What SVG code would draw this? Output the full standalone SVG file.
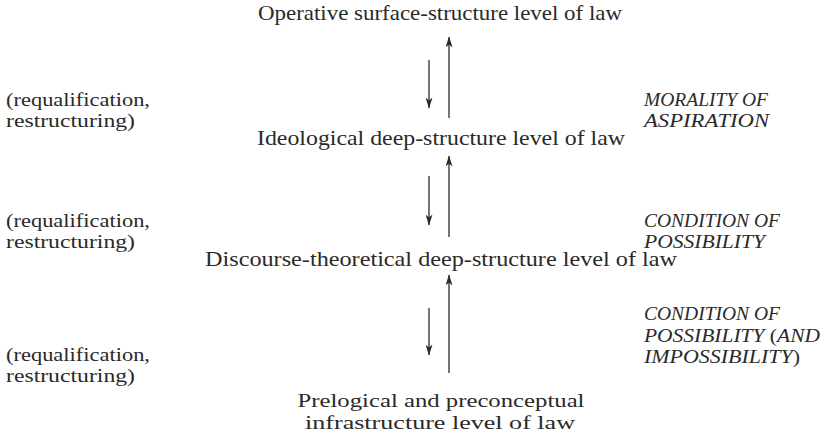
<svg xmlns="http://www.w3.org/2000/svg" width="838" height="438" viewBox="0 0 838 438">
  <style>
    text { font-family: 'Liberation Serif', serif; font-size: 21px; fill: #2a2a2a; }
    .lvl { text-anchor: middle; }
    .two { font-size: 19.8px; }
    .side { font-size: 18.9px; }
    .note { font-style: italic; }
    .up { font-style: normal; }
    .arr { stroke: #2a2a2a; stroke-width: 1.3; fill: none; }
  </style>
  <defs>
    <marker id="head" viewBox="0 0 11 7" refX="10.5" refY="3.5" markerWidth="11" markerHeight="7" markerUnits="userSpaceOnUse" orient="auto">
      <path d="M0,0 L11,3.5 L0,7 L3,3.5 Z" fill="#2a2a2a"/>
    </marker>
  </defs>

  <!-- levels -->
  <g id="level-operative">
    <text class="lvl" x="440" y="20" textLength="364" lengthAdjust="spacingAndGlyphs">Operative surface-structure level of law</text>
  </g>
  <g id="level-ideological">
    <text class="lvl" x="441" y="145" textLength="368" lengthAdjust="spacingAndGlyphs">Ideological deep-structure level of law</text>
  </g>
  <g id="level-discourse">
    <text class="lvl" x="441" y="266" textLength="472" lengthAdjust="spacingAndGlyphs">Discourse-theoretical deep-structure level of law</text>
  </g>
  <g id="level-prelogical">
    <text class="lvl two" x="441" y="407" textLength="287" lengthAdjust="spacingAndGlyphs">Prelogical and preconceptual</text>
    <text class="lvl two" x="440" y="429" textLength="270" lengthAdjust="spacingAndGlyphs">infrastructure level of law</text>
  </g>

  <!-- side notes -->
  <g id="note-left-1" class="side">
    <text class="side" x="6" y="106" textLength="144" lengthAdjust="spacingAndGlyphs">(requalification,</text>
    <text class="side" x="6" y="127" textLength="129" lengthAdjust="spacingAndGlyphs">restructuring)</text>
  </g>
  <g id="note-right-1">
    <text class="side note" x="644" y="106" textLength="124" lengthAdjust="spacingAndGlyphs">MORALITY OF</text>
    <text class="side note" x="644" y="127" textLength="125" lengthAdjust="spacingAndGlyphs">ASPIRATION</text>
  </g>
  <g id="note-left-2">
    <text class="side" x="6" y="227" textLength="144" lengthAdjust="spacingAndGlyphs">(requalification,</text>
    <text class="side" x="6" y="248" textLength="129" lengthAdjust="spacingAndGlyphs">restructuring)</text>
  </g>
  <g id="note-right-2">
    <text class="side note" x="644" y="227" textLength="136" lengthAdjust="spacingAndGlyphs">CONDITION OF</text>
    <text class="side note" x="644" y="248" textLength="121" lengthAdjust="spacingAndGlyphs">POSSIBILITY</text>
  </g>
  <g id="note-left-3">
    <text class="side" x="6" y="361" textLength="144" lengthAdjust="spacingAndGlyphs">(requalification,</text>
    <text class="side" x="6" y="382" textLength="129" lengthAdjust="spacingAndGlyphs">restructuring)</text>
  </g>
  <g id="note-right-3">
    <text class="side note" x="644" y="320" textLength="136" lengthAdjust="spacingAndGlyphs">CONDITION OF</text>
    <text class="side note" x="644" y="342" textLength="176" lengthAdjust="spacingAndGlyphs">POSSIBILITY <tspan class="up">(</tspan>AND</text>
    <text class="side note" x="644" y="363" textLength="156" lengthAdjust="spacingAndGlyphs">IMPOSSIBILITY<tspan class="up">)</tspan></text>
  </g>

  <!-- connectors -->
  <g id="connectors" class="arr">
    <line x1="449" y1="118" x2="449" y2="37" marker-end="url(#head)"/>
    <line x1="429" y1="60" x2="429" y2="108" marker-end="url(#head)"/>
    <line x1="449" y1="237" x2="449" y2="156" marker-end="url(#head)"/>
    <line x1="429" y1="176" x2="429" y2="225" marker-end="url(#head)"/>
    <line x1="449" y1="373" x2="449" y2="275" marker-end="url(#head)"/>
    <line x1="429" y1="308" x2="429" y2="355" marker-end="url(#head)"/>
  </g>
</svg>
